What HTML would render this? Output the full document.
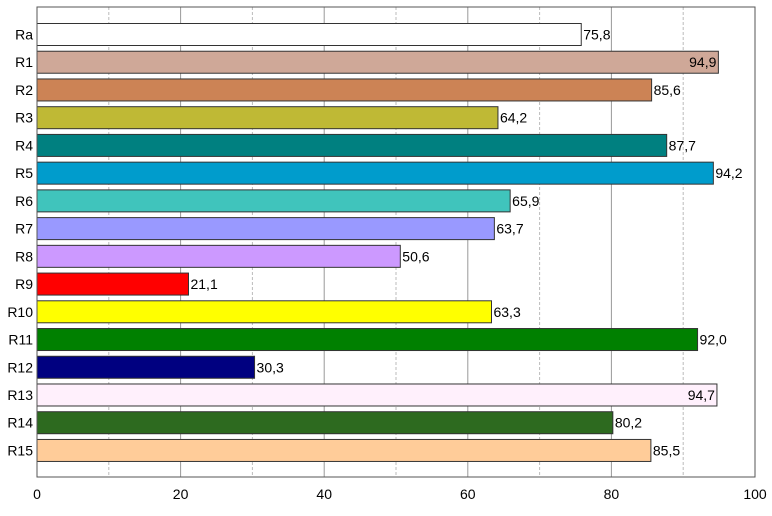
<!DOCTYPE html>
<html><head><meta charset="utf-8"><style>
body{margin:0;background:#fff;}
svg text{font-family:"Liberation Sans",Arial,sans-serif;font-size:14px;fill:#000;}
</style></head><body>
<svg id="chart" width="772" height="511">
<rect x="0" y="0" width="772" height="511" fill="#fff"/>
<g id="grid"></g><g id="bars"></g><g id="labels"></g>
<rect x="37" y="7" width="718" height="470" fill="none" stroke="#555" stroke-width="1"/>
</svg>
<script>
const categories=["Ra","R1","R2","R3","R4","R5","R6","R7","R8","R9","R10","R11","R12","R13","R14","R15"];
const values=[75.8,94.9,85.6,64.2,87.7,94.2,65.9,63.7,50.6,21.1,63.3,92.0,30.3,94.7,80.2,85.5];
const colors=["#ffffff","#cfa898","#cc8355","#bfb935","#008080","#009ccc","#40c4bc","#9999ff","#cc99ff","#ff0000","#ffff00","#008000","#000080","#fff0fc","#2d6a1f","#ffcc99"];
const ticks=[0,20,40,60,80,100];
const minor=[10,30,50,70,90];
const NS="http://www.w3.org/2000/svg";
const X0=37,X1=755,Y0=7,Y1=477;
const xs=v=>X0+(X1-X0)*v/100;
const pitch=27.73, firstC=34.5;
const yc=i=>firstC+i*pitch;
function mk(t,a,p){const e=document.createElementNS(NS,t);for(const k in a)e.setAttribute(k,a[k]);p.appendChild(e);return e;}
const grid=document.getElementById('grid'),bars=document.getElementById('bars'),labels=document.getElementById('labels');
minor.forEach(v=>{const l=mk('line',{x1:xs(v),x2:xs(v),y1:Y0,y2:Y1,stroke:'#bbb','stroke-dasharray':'3,2'},grid);

});
ticks.forEach(v=>{const l=mk('line',{x1:xs(v),x2:xs(v),y1:Y0,y2:Y1,stroke:'#999'},grid);


const t=mk('text',{x:xs(v),y:499,'text-anchor':'middle'},labels);t.textContent=v;

});
categories.forEach((c,i)=>{const y=yc(i),v=values[i];
const r=mk('rect',{x:X0,y:y-11,width:xs(v)-X0,height:22,fill:colors[i],stroke:'#333','stroke-width':1},bars);


const t=mk('text',{x:33,y:y+5,'text-anchor':'end'},labels);t.textContent=c;


const s=v.toFixed(1).replace('.',',');const inside=xs(v)+40>X1;
const vt=mk('text',{x:inside?xs(v)-2:xs(v)+2,y:y+5,'text-anchor':inside?'end':'start'},labels);vt.textContent=s;

});
</script>
</body></html>
